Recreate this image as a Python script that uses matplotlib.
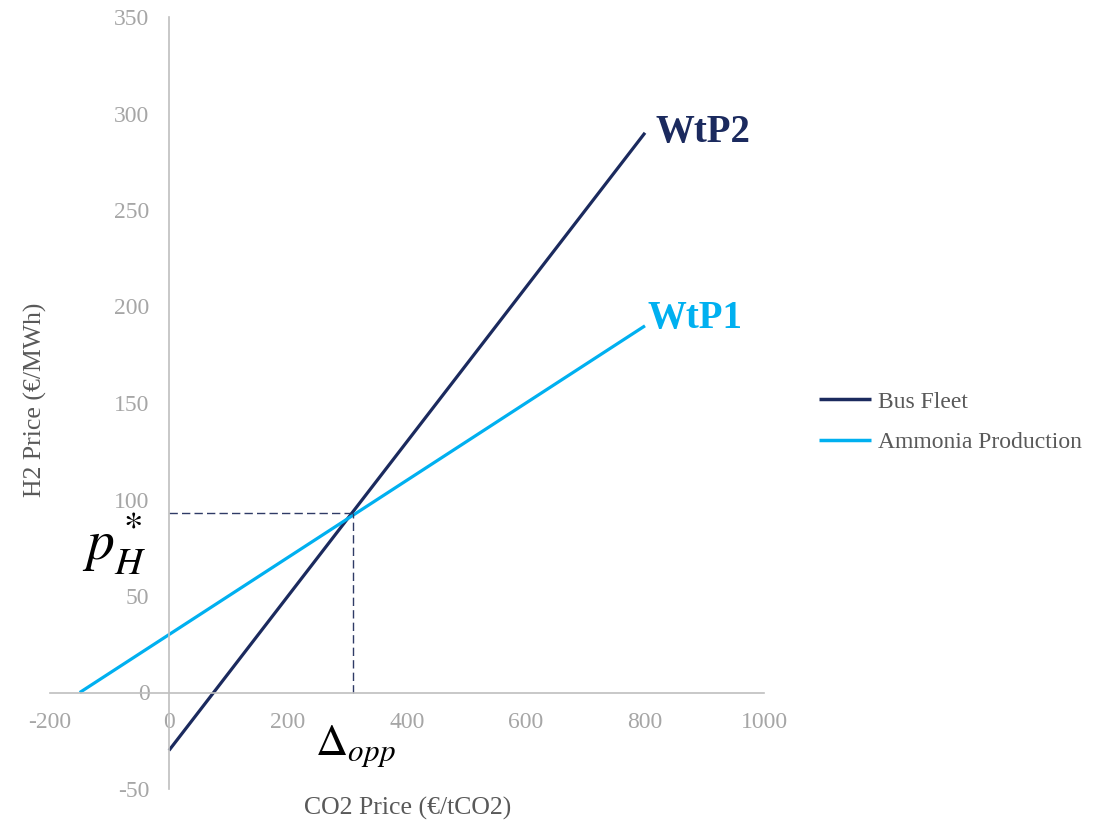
import matplotlib
matplotlib.use("Agg")
import matplotlib.pyplot as plt

plt.rcParams["font.family"] = ["Liberation Serif", "DejaVu Serif"]
plt.rcParams["mathtext.fontset"] = "stix"
plt.rcParams["axes.unicode_minus"] = False

# series
bus_x = [0, 800]
bus_y = [-30, 290]
ammonia_x = [-150, 800]
ammonia_y = [0, 190]

# crossing point marked with dashed guides
cross_x = 310
cross_y = 93

x_ticks = [-200, 0, 200, 400, 600, 800, 1000]
y_ticks = [-50, 0, 50, 100, 150, 200, 250, 300, 350]

NAVY = "#1B2A5E"
BLUE = "#00B0F0"
TICK_GREY = "#A6A6A6"
LABEL_GREY = "#595959"
AXIS_GREY = "#BFBFBF"

fig = plt.figure(figsize=(11.04, 8.23), dpi=100)
ax = fig.add_axes([50 / 1104, 1 - 789 / 823, 714 / 1104, 772 / 823])

ax.plot(bus_x, bus_y, color=NAVY, lw=2.3, label="Bus Fleet", solid_capstyle="butt")
ax.plot(ammonia_x, ammonia_y, color=BLUE, lw=2.3, label="Ammonia Production",
        solid_capstyle="butt")

# dashed guides to the axes
ax.plot([0, cross_x], [cross_y, cross_y], color="#2F3B66", lw=1.0, ls=(0, (6, 3)))
ax.plot([cross_x, cross_x], [0, cross_y], color="#2F3B66", lw=1.0, ls=(0, (6, 3)))

ax.set_xlim(-200, 1000)
ax.set_ylim(-50, 350)
ax.set_xticks(x_ticks)
ax.set_yticks(y_ticks)

for side in ["top", "right"]:
    ax.spines[side].set_visible(False)
ax.spines["left"].set_position(("data", 0))
ax.spines["bottom"].set_position(("data", 0))
for side in ["left", "bottom"]:
    ax.spines[side].set_color(AXIS_GREY)
    ax.spines[side].set_linewidth(1.2)

ax.tick_params(axis="x", length=0, pad=14, labelsize=17, labelcolor=TICK_GREY)
ax.tick_params(axis="y", length=0, pad=14, labelsize=17, labelcolor=TICK_GREY)

# annotations
ax.text(817, 290, "WtP2", color=NAVY, fontsize=28, fontweight="bold",
        ha="left", va="center")
ax.text(805, 194, "WtP1", color=BLUE, fontsize=28, fontweight="bold",
        ha="left", va="center")
ax.text(-92, 77, r"$p_H^*$", fontsize=40, ha="center", va="center")
ax.text(313, -28, r"$\Delta_{opp}$", fontsize=32, ha="center", va="center")

# axis titles
fig.text(35 / 1104, 1 - 400 / 823, "H2 Price (€/MWh)", rotation=90,
         ha="center", va="center", fontsize=18.5, color=LABEL_GREY)
fig.text(408 / 1104, 1 - 808 / 823, "CO2 Price (€/tCO2)",
         ha="center", va="center", fontsize=18.5, color=LABEL_GREY)

leg = fig.legend(loc="center left", bbox_to_anchor=(807 / 1104, 1 - 422 / 823),
                 frameon=False, fontsize=17, handlelength=2.2, handletextpad=0.3,
                 labelspacing=0.8, borderpad=0)
for t in leg.get_texts():
    t.set_color(LABEL_GREY)
for h in leg.get_lines():
    h.set_linewidth(2.5)

fig.savefig("out.png", dpi=100)
